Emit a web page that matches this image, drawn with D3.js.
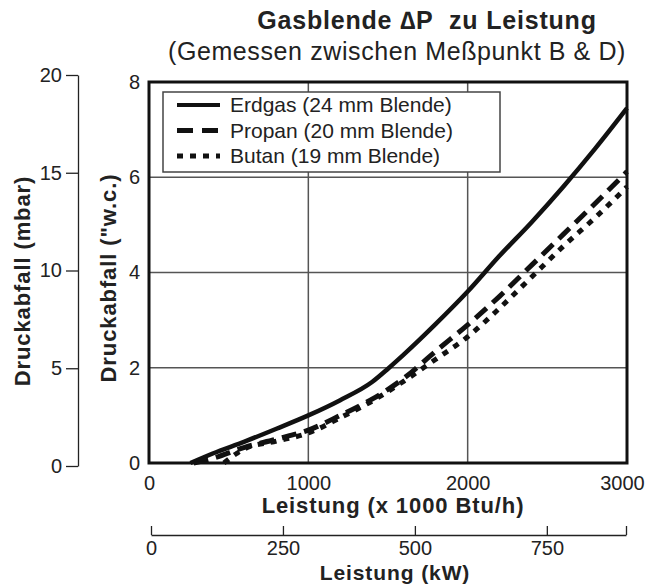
<!DOCTYPE html>
<html>
<head>
<meta charset="utf-8">
<script src="https://cdn.jsdelivr.net/npm/d3@7"></script>
<style>
  body { margin: 0; background: #fff; }
  svg { font-family: "Liberation Sans", Arial, sans-serif; }
  .grid line { stroke: #555; stroke-width: 1.5; }
</style>
</head>
<body>
<div id="chart-area"><svg></svg></div>
<script>
// Leistung in 1000 Btu/h, Druckabfall in "w.c.
const erdgasLeistung = [260, 400, 600, 800, 1000, 1200, 1400, 1500, 1600, 1800, 2000, 2200, 2400, 2600, 2800, 3000];
const erdgasDruck = [0, 0.2, 0.45, 0.72, 1.0, 1.32, 1.7, 1.98, 2.28, 2.92, 3.6, 4.35, 5.05, 5.8, 6.6, 7.45];

const propanLeistung = [280, 400, 600, 800, 1000, 1200, 1400, 1600, 1800, 2000, 2200, 2400, 2600, 2800, 3000];
const propanDruck = [0, 0.1, 0.33, 0.5, 0.69, 1.0, 1.34, 1.78, 2.35, 2.9, 3.5, 4.15, 4.8, 5.45, 6.12];

const butanLeistung = [470, 550, 600, 800, 1000, 1200, 1400, 1600, 1800, 2000, 2200, 2400, 2600, 2800, 3000];
const butanDruck = [0, 0.2, 0.3, 0.46, 0.63, 0.95, 1.3, 1.72, 2.18, 2.65, 3.25, 3.9, 4.55, 5.15, 5.8];

const seriesNames = ["Erdgas (24 mm Blende)", "Propan (20 mm Blende)", "Butan (19 mm Blende)"];
const btuTicks = [0, 1000, 2000, 3000];
const wcTicks = [0, 2, 4, 6, 8];
const mbarTicks = [0, 5, 10, 15, 20];
const kwTicks = [0, 250, 500, 750];

const chartSize = { width: 648, height: 587 };
const plot = { left: 149, right: 627, top: 82, bottom: 463 };
const dashes = ["none", "15,8", "6,7"];

const svg = d3
  .select("#chart-area svg")
  .attr("width", chartSize.width)
  .attr("height", chartSize.height);

const x = d3.scaleLinear().domain([0, 3000]).range([plot.left, plot.right]);
const y = d3.scaleLinear().domain([0, 8]).range([plot.bottom, plot.top]);
const yMbar = d3.scaleLinear().domain([0, 20]).range([466, 75]);
const xKw = d3.scaleLinear().domain([0, 900]).range([151, 626]);

// titles
svg.append("text")
  .attr("x", 427).attr("y", 29)
  .attr("text-anchor", "middle")
  .attr("font-size", 25).attr("font-weight", "bold")
  .attr("letter-spacing", 0.8).attr("fill", "#222")
  .text("Gasblende \u2206P\u00a0 zu Leistung");
svg.append("text")
  .attr("x", 397).attr("y", 60)
  .attr("text-anchor", "middle")
  .attr("font-size", 25)
  .attr("letter-spacing", 0.6).attr("fill", "#222")
  .text("(Gemessen zwischen Meßpunkt B & D)");

// grid
const grid = svg.append("g").attr("class", "grid");
grid.selectAll(".gx")
  .data(btuTicks.slice(1, -1))
  .enter().append("line")
  .attr("x1", d => x(d)).attr("x2", d => x(d))
  .attr("y1", plot.top).attr("y2", plot.bottom);
grid.selectAll(".gy")
  .data(wcTicks.slice(1, -1))
  .enter().append("line")
  .attr("x1", plot.left).attr("x2", plot.right)
  .attr("y1", d => y(d)).attr("y2", d => y(d));

// tick labels of main axes
const xAxis = d3.axisBottom(x).tickValues(btuTicks).tickFormat(d3.format("d")).tickSize(0).tickPadding(13);
const gx = svg.append("g")
  .attr("transform", `translate(0,${plot.bottom})`)
  .call(xAxis);
gx.select(".domain").remove();
gx.selectAll("text").attr("font-size", 20).attr("font-family", null).attr("fill", "#222");
gx.selectAll(".tick:last-child text").attr("dx", -5);

const yAxis = d3.axisLeft(y).tickValues(wcTicks).tickSize(0).tickPadding(9);
const gy = svg.append("g")
  .attr("transform", `translate(${plot.left},0)`)
  .call(yAxis);
gy.select(".domain").remove();
gy.selectAll("text").attr("font-size", 20).attr("font-family", null).attr("fill", "#222");

// mbar axis
const mbarAxis = d3.axisLeft(yMbar).tickValues(mbarTicks).tickSize(12).tickSizeOuter(0).tickPadding(4);
const gm = svg.append("g")
  .attr("transform", "translate(78,0)")
  .call(mbarAxis);
gm.selectAll("text").attr("font-size", 20).attr("font-family", null).attr("fill", "#222");
gm.selectAll("line, path").attr("stroke", "#222").attr("stroke-width", 1.3);

// kW axis
const kwAxis = d3.axisTop(xKw).tickValues(kwTicks.concat([900])).tickSize(9).tickSizeOuter(0);
const gk = svg.append("g")
  .attr("transform", "translate(0,535)")
  .call(kwAxis);
gk.selectAll("line, path").attr("stroke", "#222").attr("stroke-width", 1.3);
gk.selectAll("text")
  .attr("font-size", 20).attr("font-family", null).attr("fill", "#222")
  .attr("y", 20)
  .text(d => (d === 900 ? "" : d));

// axis titles
const bold = (sel) => sel
  .attr("font-size", 22).attr("font-weight", "bold")
  .attr("letter-spacing", 0.9).attr("fill", "#222");
svg.append("text").call(bold)
  .attr("x", 393).attr("y", 513).attr("text-anchor", "middle")
  .text("Leistung (x 1000 Btu/h)");
svg.append("text").call(bold)
  .attr("x", 395).attr("y", 580).attr("text-anchor", "middle")
  .attr("font-size", 21)
  .text("Leistung (kW)");
svg.append("text").call(bold)
  .attr("transform", "translate(30,281) rotate(-90)").attr("text-anchor", "middle")
  .text("Druckabfall (mbar)");
svg.append("text").call(bold)
  .attr("transform", "translate(116,278) rotate(-90)").attr("text-anchor", "middle")
  .text("Druckabfall (\"w.c.)");

// curves
const series = [
  d3.zip(erdgasLeistung, erdgasDruck),
  d3.zip(propanLeistung, propanDruck),
  d3.zip(butanLeistung, butanDruck)
];
const line = d3.line()
  .x(d => x(d[0]))
  .y(d => y(d[1]))
  .curve(d3.curveMonotoneX);

svg.append("g")
  .selectAll("path")
  .data(series)
  .enter().append("path")
  .attr("d", line)
  .attr("fill", "none")
  .attr("stroke", "#111")
  .attr("stroke-width", (d, i) => (i === 0 ? 4.5 : 5))
  .attr("stroke-dasharray", (d, i) => dashes[i]);

// frame
svg.append("rect")
  .attr("x", plot.left).attr("y", plot.top)
  .attr("width", plot.right - plot.left)
  .attr("height", plot.bottom - plot.top)
  .attr("fill", "none")
  .attr("stroke", "#111")
  .attr("stroke-width", 3);

// legend
const legend = svg.append("g").attr("transform", "translate(163,92)");
legend.append("rect")
  .attr("width", 337).attr("height", 80)
  .attr("fill", "#fff")
  .attr("stroke", "#444").attr("stroke-width", 1.5);
const rows = legend.selectAll(".row")
  .data(seriesNames)
  .enter().append("g")
  .attr("transform", (d, i) => `translate(0,${13 + i * 25.5})`);
rows.append("line")
  .attr("x1", 14).attr("x2", 57)
  .attr("stroke", "#111")
  .attr("stroke-width", (d, i) => (i === 0 ? 4 : 5))
  .attr("stroke-dasharray", (d, i) => (i === 1 ? "16,9" : dashes[i]));
rows.append("text")
  .attr("x", 67).attr("y", 7)
  .attr("font-size", 21).attr("fill", "#222")
  .text(d => d);
</script>
</body>
</html>
